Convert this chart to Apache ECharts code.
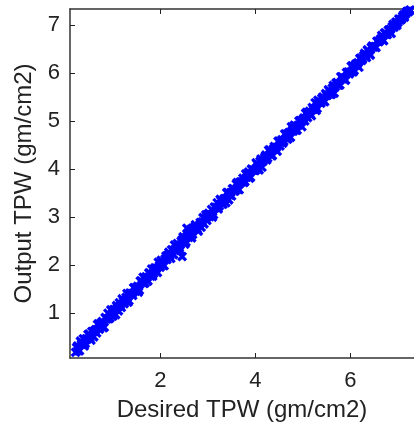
<!DOCTYPE html>
<html><head><meta charset="utf-8">
<script src="https://cdn.jsdelivr.net/npm/echarts@6/dist/echarts.min.js"></script>
<style>html,body{margin:0;padding:0;background:#fff;overflow:hidden}#c{width:414px;height:430px}</style>
</head><body><div id="c"></div>
<script>
const xTicks = [2, 4, 6];
const yTicks = [1, 2, 3, 4, 5, 6, 7];
const desiredA = [0.22,0.26,0.30,0.34,0.38,0.42,0.46,0.50,0.54,0.58,0.62,0.66,0.70,0.74,0.78,0.82,0.86,0.90,0.94,0.98,
1.02,1.06,1.10,1.14,1.18,1.22,1.26,1.30,1.34,1.38,1.42,1.46,1.50,1.54,1.58,1.62,1.66,1.70,1.74,1.78,
1.82,1.86,1.90,1.94,1.98,2.02,2.06,2.10,2.14,2.18,2.22,2.26,2.30,2.34,2.38,2.42,2.46,2.50,2.54,2.58,
2.62,2.66,2.70,2.74,2.78,2.82,2.86,2.90,2.94,2.98,3.02,3.06,3.10,3.14,3.18,3.22,3.26,3.30,3.34,3.38,
3.42,3.46,3.50,3.54,3.58,3.62,3.66,3.70,3.74,3.78,3.82,3.86,3.90,3.94,3.98,4.02,4.06,4.10,4.14,4.18,
4.22,4.26,4.30,4.34,4.38,4.42,4.46,4.50,4.54,4.58,4.62,4.66,4.70,4.74,4.78,4.82,4.86,4.90,4.94,4.98,
5.02,5.06,5.10,5.14,5.18,5.22,5.26,5.30,5.34,5.38,5.42,5.46,5.50,5.54,5.58,5.62,5.66,5.70,5.74,5.78,
5.82,5.86,5.90,5.94,5.98,6.02,6.06,6.10,6.14,6.18,6.22,6.26,6.30,6.34,6.38,6.42,6.46,6.50,6.54,6.58,
6.62,6.66,6.70,6.74,6.78,6.82,6.86,6.90,6.94,6.98,7.02,7.06,7.10,7.14,7.18,7.22,7.26,2.56,2.46];
const outputA = [0.19,0.32,0.22,0.36,0.47,0.37,0.46,0.57,0.44,0.62,0.63,0.59,0.78,0.72,0.83,0.71,0.89,1.00,0.90,0.98,
1.08,0.97,1.12,1.22,1.12,1.26,1.25,1.41,1.26,1.41,1.37,1.53,1.50,1.44,1.67,1.64,1.62,1.76,1.67,1.83,
1.92,1.83,1.94,1.85,1.99,2.10,2.00,2.13,2.12,2.27,2.14,2.31,2.42,2.30,2.38,2.31,2.53,2.52,2.48,2.66,
2.65,2.57,2.75,2.84,2.75,2.83,2.79,2.99,2.98,2.93,3.08,3.05,3.00,3.21,3.20,3.17,3.37,3.28,3.38,3.30,
3.51,3.46,3.44,3.59,3.55,3.72,3.57,3.73,3.81,3.74,3.83,3.94,3.83,3.98,3.97,4.13,4.01,4.16,4.04,4.20,
4.29,4.23,4.40,4.28,4.42,4.42,4.37,4.58,4.56,4.54,4.73,4.64,4.75,4.66,4.81,4.91,4.81,4.91,5.01,4.88,
5.06,5.16,5.07,5.20,5.11,5.24,5.38,5.26,5.39,5.37,5.50,5.40,5.53,5.65,5.56,5.68,5.58,5.79,5.75,5.75,
5.92,5.90,5.85,6.01,5.98,6.14,6.02,6.16,6.16,6.12,6.31,6.29,6.41,6.32,6.45,6.37,6.56,6.54,6.53,6.66,
6.67,6.78,6.67,6.83,6.80,6.89,6.82,7.01,7.00,6.99,7.12,7.10,7.18,7.16,7.27,7.27,7.31,2.77,2.18];
const desiredB = [0.24,0.28,0.32,0.36,0.40,0.44,0.48,0.52,0.56,0.60,0.64,0.68,0.72,0.76,0.80,0.84,0.88,0.92,0.96,1.00,
1.04,1.08,1.12,1.16,1.20,1.24,1.28,1.32,1.36,1.40,1.44,1.48,1.52,1.56,1.60,1.64,1.68,1.72,1.76,1.80,
1.84,1.88,1.92,1.96,2.00,2.04,2.08,2.12,2.16,2.20,2.24,2.28,2.32,2.36,2.40,2.44,2.48,2.52,2.56,2.60,
2.64,2.68,2.72,2.76,2.80,2.84,2.88,2.92,2.96,3.00,3.04,3.08,3.12,3.16,3.20,3.24,3.28,3.32,3.36,3.40,
3.44,3.48,3.52,3.56,3.60,3.64,3.68,3.72,3.76,3.80,3.84,3.88,3.92,3.96,4.00,4.04,4.08,4.12,4.16,4.20,
4.24,4.28,4.32,4.36,4.40,4.44,4.48,4.52,4.56,4.60,4.64,4.68,4.72,4.76,4.80,4.84,4.88,4.92,4.96,5.00,
5.04,5.08,5.12,5.16,5.20,5.24,5.28,5.32,5.36,5.40,5.44,5.48,5.52,5.56,5.60,5.64,5.68,5.72,5.76,5.80,
5.84,5.88,5.92,5.96,6.00,6.04,6.08,6.12,6.16,6.20,6.24,6.28,6.32,6.36,6.40,6.44,6.48,6.52,6.56,6.60,
6.64,6.68,6.72,6.76,6.80,6.84,6.88,6.92,6.96,7.00,7.04,7.08,7.12,7.16,7.20,7.24];
const outputB = [0.29,0.22,0.42,0.35,0.32,0.47,0.56,0.48,0.62,0.51,0.66,0.77,0.67,0.80,0.70,0.91,0.88,0.89,1.07,0.94,
1.07,1.16,1.05,1.17,1.30,1.20,1.33,1.23,1.42,1.40,1.53,1.46,1.56,1.48,1.67,1.75,1.63,1.74,1.84,1.77,
1.77,1.94,1.93,2.06,1.96,2.07,1.99,2.19,2.21,2.19,2.32,2.22,2.34,2.45,2.37,2.50,2.59,2.44,2.60,2.58,
2.74,2.64,2.79,2.76,2.71,2.89,2.90,2.86,3.05,3.03,3.01,3.16,3.05,3.20,3.30,3.23,3.34,3.27,3.38,3.51,
3.36,3.51,3.59,3.54,3.69,3.58,3.73,3.73,3.72,3.90,3.88,3.81,4.00,3.98,3.97,4.10,3.98,4.21,4.16,4.25,
4.19,4.39,4.35,4.28,4.47,4.45,4.58,4.48,4.61,4.58,4.73,4.62,4.76,4.88,4.79,4.90,4.81,5.00,4.98,5.03,
5.00,5.18,5.17,5.14,5.28,5.25,5.22,5.43,5.40,5.47,5.41,5.57,5.54,5.62,5.55,5.74,5.71,5.80,5.75,5.92,
5.88,5.86,6.01,6.02,6.01,6.15,6.05,6.19,6.21,6.30,6.26,6.36,6.36,6.48,6.40,6.53,6.54,6.55,6.66,6.65,
6.71,6.69,6.83,6.80,6.89,6.90,6.96,6.95,7.06,7.05,7.11,7.12,7.21,7.22,7.28,7.29];

const pts = desiredA.map((d, i) => [d, outputA[i]]).concat(desiredB.map((d, i) => [d, outputB[i]]));
const font = 'Liberation Sans';
const xMark = 'path://M0.35,0L0.65,0L0.65,0.35L1,0.35L1,0.65L0.65,0.65L0.65,1L0.35,1L0.35,0.65L0,0.65L0,0.35L0.35,0.35Z';
const axisLine = {show: true, onZero: false, lineStyle: {color: '#333', width: 1.5}};
const tickStyle = {show: true, inside: true, length: 5, lineStyle: {color: '#222', width: 1}};

const chart = echarts.init(document.getElementById('c'), null, {renderer: 'canvas'});
chart.setOption({
  animation: false,
  backgroundColor: '#fff',
  grid: {left: 70, top: 9, width: 348, height: 349, containLabel: false},
  xAxis: [{
    type: 'value', min: 0.1, max: 7.34, position: 'bottom',
    name: 'Desired TPW (gm/cm2)', nameLocation: 'middle', nameGap: 40,
    nameTextStyle: {fontFamily: font, fontSize: 24, color: '#222'},
    axisLine: axisLine, axisTick: Object.assign({customValues: xTicks}, tickStyle),
    axisLabel: {customValues: xTicks, fontFamily: font, fontSize: 22, color: '#222', margin: 12},
    splitLine: {show: false}
  }, {
    type: 'value', min: 0.1, max: 7.34, position: 'top',
    axisLine: axisLine, axisTick: Object.assign({customValues: xTicks}, tickStyle),
    axisLabel: {show: false}, splitLine: {show: false}
  }],
  yAxis: [{
    type: 'value', min: 0.07, max: 7.33, position: 'left',
    name: 'Output TPW (gm/cm2)', nameLocation: 'middle', nameGap: 32,
    nameTextStyle: {fontFamily: font, fontSize: 24, color: '#222'},
    axisLine: axisLine, axisTick: Object.assign({customValues: yTicks}, tickStyle),
    axisLabel: {customValues: yTicks, fontFamily: font, fontSize: 22, color: '#222', margin: 10},
    splitLine: {show: false}
  }],
  series: [{
    type: 'scatter', data: pts, xAxisIndex: 0, yAxisIndex: 0,
    symbol: xMark, symbolSize: 11, symbolRotate: 45,
    itemStyle: {color: '#0000ff', opacity: 1}
  }]
});
</script></body></html>
